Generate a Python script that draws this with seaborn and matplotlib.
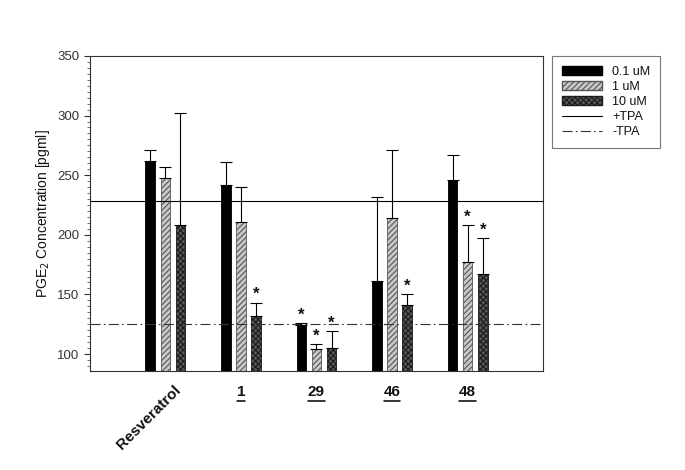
import numpy as np
import pandas as pd
import seaborn as sns
import matplotlib.pyplot as plt
import matplotlib.transforms as mtransforms
from matplotlib.patches import Patch
from matplotlib.lines import Line2D
from matplotlib.ticker import MultipleLocator

# data
compounds = ['Resveratrol', '1', '29', '46', '48']
doses = ['0.1 uM', '1 uM', '10 uM']
vals_01 = [262, 242, 124, 161, 246]
vals_1 = [248, 211, 104, 214, 177]
vals_10 = [208, 132, 105, 141, 167]
err_01 = [9, 19, 2, 71, 21]
err_1 = [9, 29, 4, 57, 31]
err_10 = [94, 11, 14, 9, 30]
sig_01 = [False, False, True, False, False]
sig_1 = [False, False, True, False, True]
sig_10 = [False, True, True, True, True]
plus_tpa = 228
minus_tpa = 125

rows = []
for d, v, e, s in zip(doses, [vals_01, vals_1, vals_10], [err_01, err_1, err_10], [sig_01, sig_1, sig_10]):
    for c, vi, ei, si in zip(compounds, v, e, s):
        rows.append({'compound': c, 'dose': d, 'value': vi, 'err': ei, 'sig': si})
df = pd.DataFrame(rows)

sns.set_style('white')
plt.rcParams['font.family'] = ['Liberation Sans', 'DejaVu Sans']
plt.rcParams['hatch.linewidth'] = 0.8
plt.rcParams['text.color'] = '#111111'
plt.rcParams['axes.labelcolor'] = '#111111'
plt.rcParams['xtick.color'] = '#111111'
plt.rcParams['ytick.color'] = '#333333'

fig = plt.figure(figsize=(6.85, 4.70), dpi=100)
ax = fig.add_axes([0.131, 0.21, 0.662, 0.671])

styles = {
    '0.1 uM': dict(fc='black', hatch=None, ec='black'),
    '1 uM': dict(fc='#c8c8c8', hatch='//////', ec='#555555'),
    '10 uM': dict(fc='#585858', hatch='xxxxxx', ec='#1a1a1a'),
}

sns.barplot(data=df, x='compound', y='value', hue='dose', order=compounds, hue_order=doses,
            width=0.6, gap=0.37, palette=['black', '#c8c8c8', '#585858'],
            errorbar=None, legend=False, ax=ax)

for cont, d in zip(ax.containers, doses):
    sub = df[df['dose'] == d].set_index('compound').loc[compounds]
    st = styles[d]
    for bar, (_, r) in zip(cont, sub.iterrows()):
        bar.set_facecolor(st['fc'])
        bar.set_edgecolor(st['ec'])
        bar.set_linewidth(0.6)
        if st['hatch']:
            bar.set_hatch(st['hatch'])
        xc = bar.get_x() + bar.get_width() / 2
        ax.errorbar(xc, r['value'], yerr=[[0], [r['err']]], fmt='none', ecolor='black',
                    elinewidth=0.8, capsize=4.5, capthick=0.8, zorder=3)
        if r['sig']:
            ax.text(xc, r['value'] + r['err'] + 0.5, '*', ha='center', va='bottom',
                    fontsize=12, fontweight='bold')

ax.axhline(plus_tpa, color='black', lw=0.8, zorder=1)
ax.axhline(minus_tpa, color='#333333', lw=0.8, ls=(0, (9, 3, 1.5, 3)), zorder=1)

ax.set_xlim(-1, 5)
ax.set_ylim(85.5, 350)
ax.yaxis.set_major_locator(MultipleLocator(50))
ax.yaxis.set_minor_locator(MultipleLocator(5))
ax.tick_params(axis='y', which='major', direction='out', length=4, width=0.8, left=True, labelsize=9.5)
ax.tick_params(axis='y', which='minor', direction='out', length=2, width=0.5, left=True)
ax.tick_params(axis='x', bottom=False, length=0, pad=10)
for sp in ax.spines.values():
    sp.set_color('#333333')
    sp.set_linewidth(0.8)

ax.set_xticks(range(len(compounds)))
ax.set_xticklabels(compounds, fontsize=11, fontweight='bold')
tl = ax.get_xticklabels()
tl[0].set_rotation(45)
tl[0].set_ha('right')
tl[0].set_rotation_mode('anchor')
tl[0].set_transform(tl[0].get_transform() + mtransforms.ScaledTranslation(6 / 72, 2 / 72, fig.dpi_scale_trans))
ax.set_xlabel('')
ax.set_ylabel(r'PGE$_2$ Concentration [pgml]', fontsize=10)

handles = [
    Patch(facecolor='black', edgecolor='black', label='0.1 uM'),
    Patch(facecolor='#c8c8c8', edgecolor='#555555', hatch='//////', label='1 uM'),
    Patch(facecolor='#585858', edgecolor='#1a1a1a', hatch='xxxxxx', label='10 uM'),
    Line2D([], [], color='black', lw=0.8, label='+TPA'),
    Line2D([], [], color='#333333', lw=0.8, ls=(0, (9, 3, 1.5, 3)), label='-TPA'),
]
leg = ax.legend(handles=handles, loc='upper left', bbox_to_anchor=(1.02, 1.0), fontsize=9,
                fancybox=False, frameon=True, edgecolor='#555555', handlelength=3.2,
                handleheight=0.7, labelspacing=0.25, borderpad=0.8, borderaxespad=0)
leg.get_frame().set_linewidth(0.8)

# underline the numbered compound labels
fig.canvas.draw()
for t in tl[1:]:
    bb = t.get_window_extent()
    x0, x1 = fig.transFigure.inverted().transform([[bb.x0, bb.y0], [bb.x1, bb.y0]])
    fig.add_artist(Line2D([x0[0], x1[0]], [x0[1] - 0.003, x1[1] - 0.003], color='black', lw=1.1))

fig.savefig('out.png', dpi=100)
